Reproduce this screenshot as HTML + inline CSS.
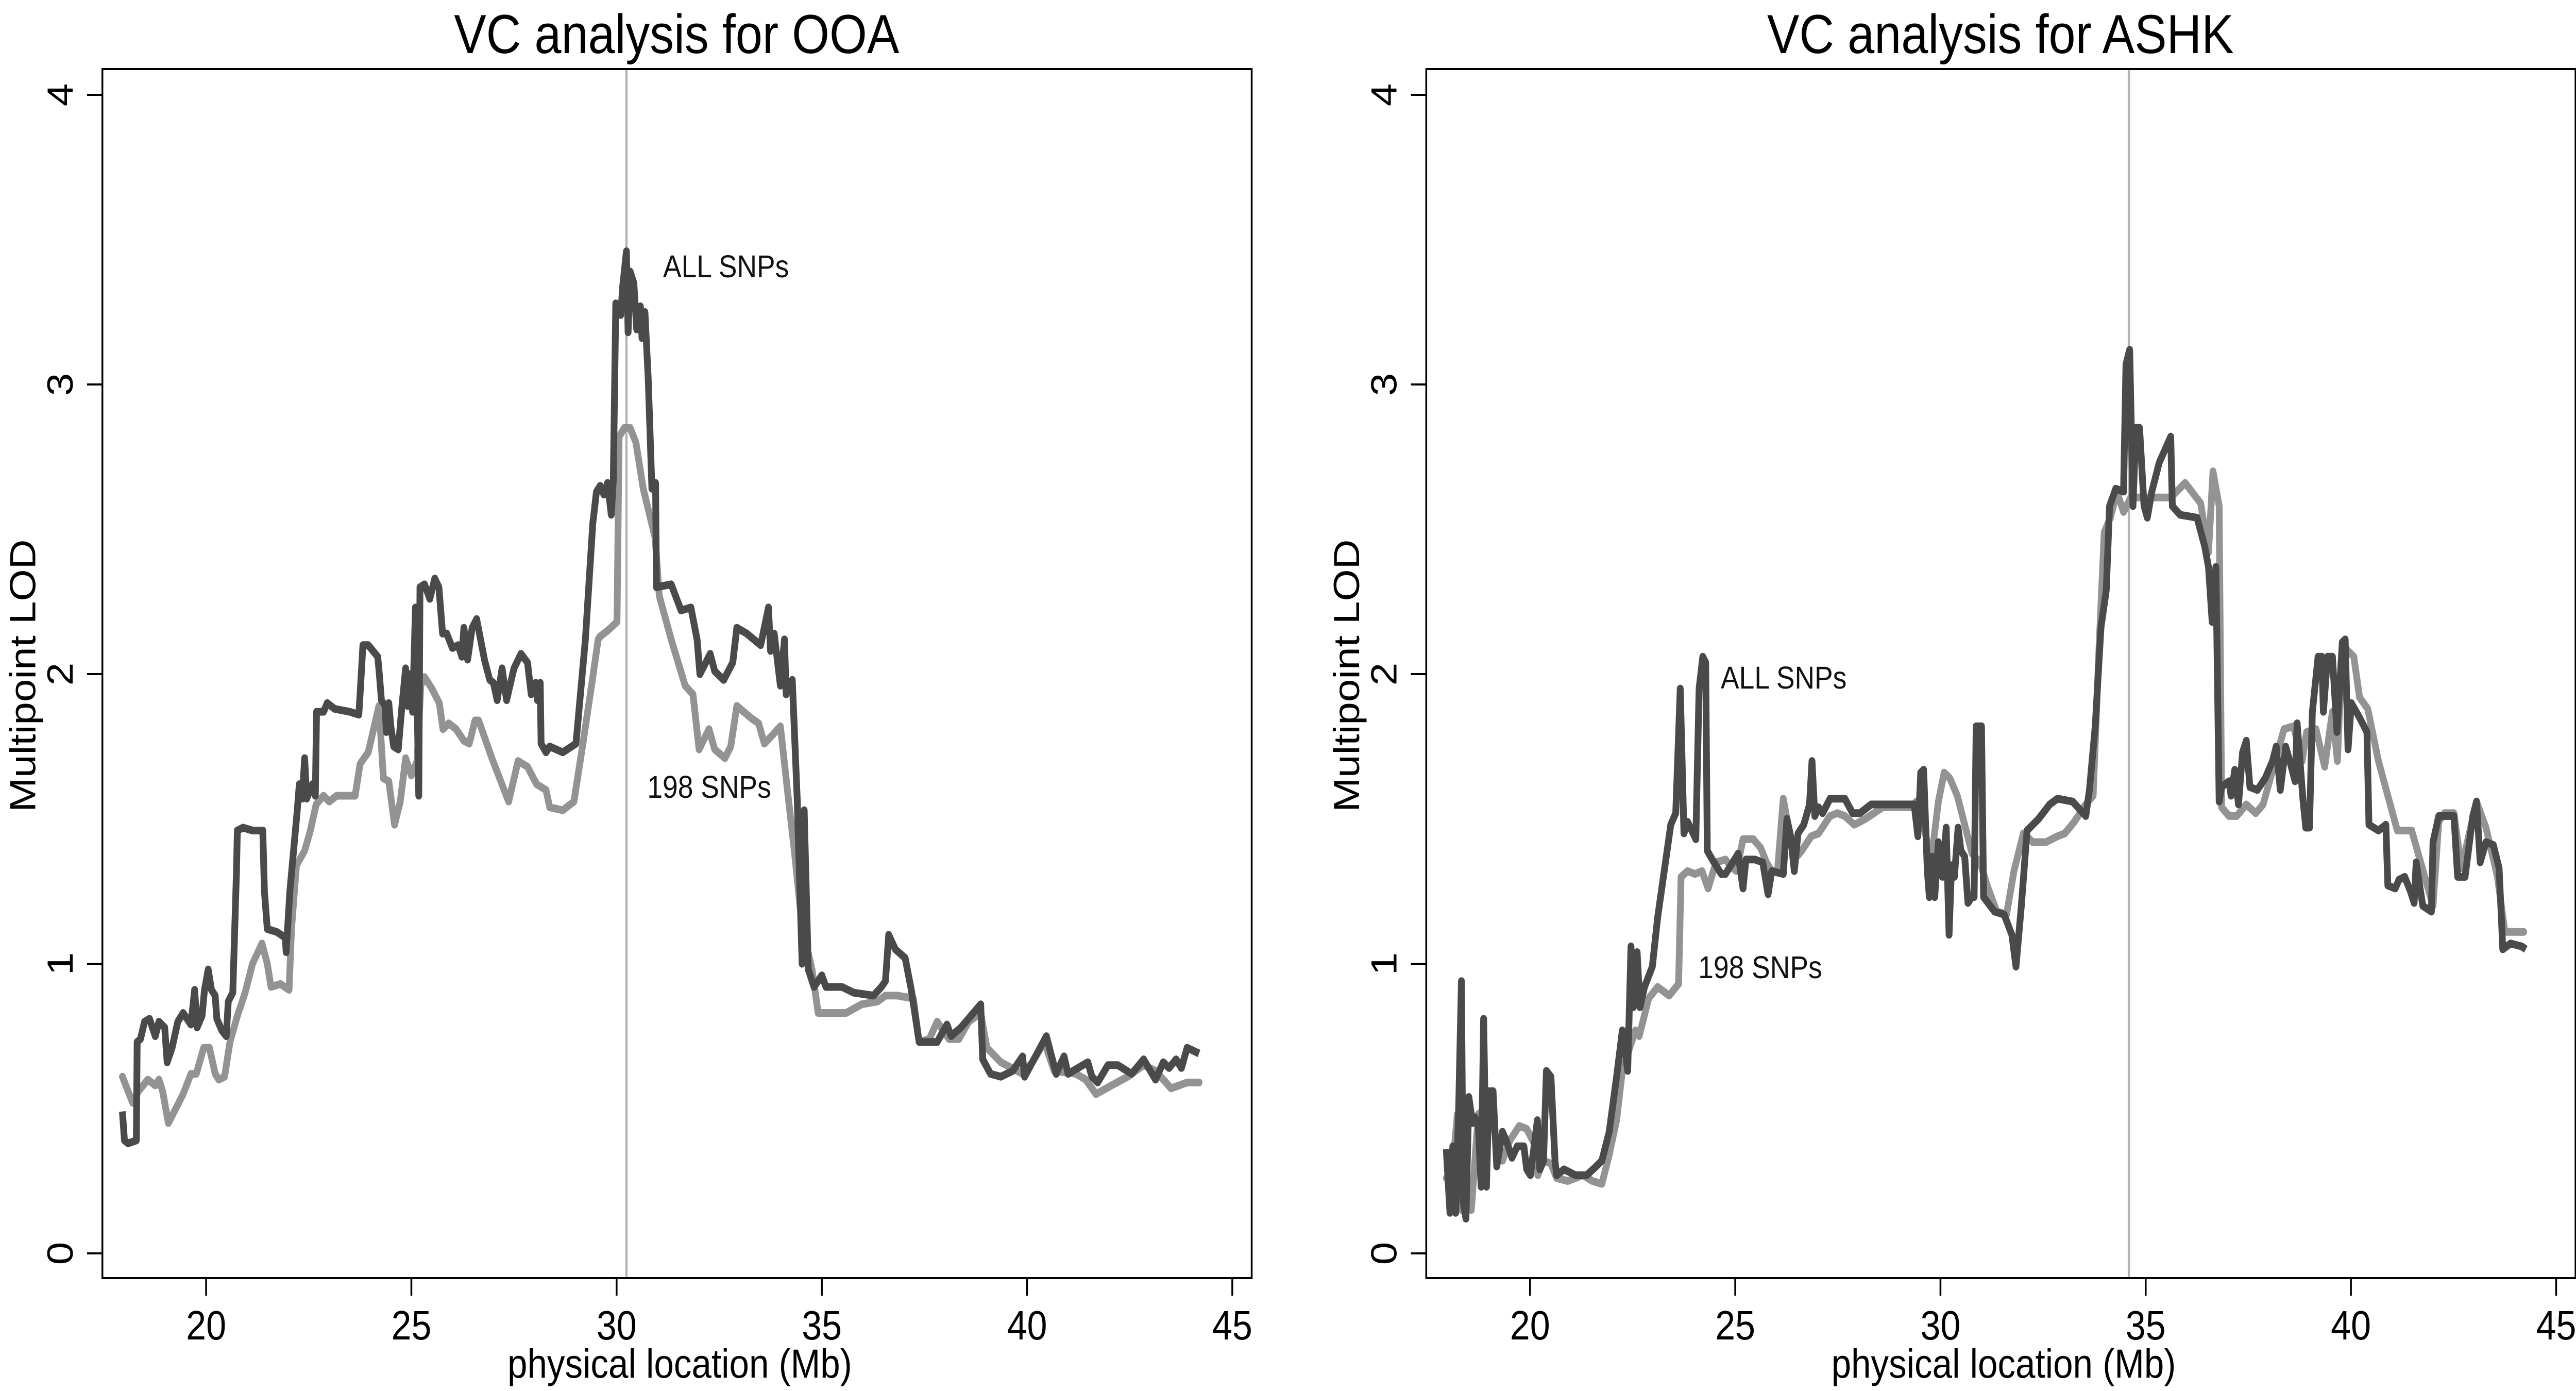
<!DOCTYPE html>
<html><head><meta charset="utf-8"><style>
html,body{margin:0;padding:0;background:#fff;overflow:hidden;width:100vw;height:100vh;}
svg{display:block;width:100vw;height:100vh;font-family:"Liberation Sans",Arial,sans-serif;}
</style></head><body>
<svg id="chart" viewBox="0 0 5711 2699" preserveAspectRatio="none" xmlns="http://www.w3.org/2000/svg"></svg>
<script>
// ---- data ----
const xTicks = [20, 25, 30, 35, 40, 45];
const yTicks = [0, 1, 2, 3, 4];
const titles = ["VC analysis for OOA", "VC analysis for ASHK"];
const markerPos = [30.24, 34.59];

const ooaAllX = [17.96,18.01,18.10,18.30,18.32,18.40,18.50,18.62,18.76,18.85,18.99,19.05,19.17,19.31,19.44,19.63,19.72,19.78,19.90,19.96,20.05,20.13,20.22,20.26,20.38,20.49,20.54,20.65,20.74,20.76,20.90,21.13,21.38,21.42,21.49,21.72,21.93,21.95,22.04,22.13,22.22,22.27,22.34,22.40,22.45,22.59,22.66,22.69,22.86,22.95,23.13,23.50,23.72,23.75,23.82,23.95,24.18,24.22,24.27,24.36,24.39,24.45,24.50,24.57,24.68,24.77,24.86,24.91,24.97,25.03,25.10,25.18,25.21,25.32,25.45,25.57,25.67,25.76,25.86,26.00,26.14,26.23,26.28,26.37,26.48,26.59,26.78,26.91,27.00,27.09,27.21,27.32,27.50,27.67,27.83,27.92,28.03,28.07,28.14,28.16,28.28,28.37,28.69,29.01,29.24,29.42,29.51,29.60,29.69,29.78,29.87,29.92,29.98,30.10,30.15,30.24,30.28,30.33,30.42,30.49,30.58,30.62,30.69,30.77,30.86,30.95,30.97,31.33,31.57,31.81,31.96,32.03,32.28,32.39,32.61,32.83,32.93,33.17,33.51,33.70,33.75,33.84,33.99,34.09,34.13,34.28,34.40,34.52,34.57,34.67,34.81,35.00,35.10,35.49,35.78,36.26,36.45,36.55,36.63,36.79,37.03,37.18,37.37,37.81,38.05,38.15,38.39,38.63,38.87,38.92,39.11,39.36,39.65,39.89,39.94,40.13,40.47,40.71,40.90,41.00,41.48,41.58,41.72,41.97,42.21,42.55,42.84,43.13,43.32,43.46,43.63,43.76,43.90,44.19];
const ooaAllY = [0.49,0.39,0.38,0.39,0.73,0.74,0.80,0.81,0.75,0.80,0.78,0.66,0.71,0.80,0.83,0.79,0.91,0.78,0.82,0.91,0.98,0.91,0.89,0.81,0.77,0.75,0.87,0.90,1.32,1.46,1.47,1.46,1.46,1.25,1.12,1.11,1.09,1.04,1.25,1.39,1.53,1.62,1.57,1.71,1.57,1.62,1.58,1.87,1.87,1.90,1.88,1.87,1.86,1.93,2.10,2.10,2.06,2.00,1.91,1.89,1.80,1.90,1.82,1.75,1.74,1.89,2.02,1.89,2.00,1.87,2.23,1.58,2.30,2.31,2.26,2.33,2.30,2.14,2.14,2.09,2.10,2.06,2.16,2.05,2.16,2.19,2.05,1.98,1.97,1.91,2.02,1.91,2.02,2.07,2.04,1.93,1.97,1.91,1.97,1.76,1.73,1.75,1.73,1.76,2.12,2.52,2.63,2.65,2.62,2.66,2.55,2.67,3.28,3.24,3.34,3.46,3.18,3.39,3.35,3.19,3.27,3.16,3.25,3.02,2.64,2.66,2.30,2.31,2.22,2.23,2.12,2.00,2.07,2.01,1.98,2.04,2.16,2.14,2.10,2.23,2.08,2.14,1.96,2.12,1.93,1.98,1.57,1.00,1.53,0.98,0.92,0.96,0.92,0.92,0.90,0.89,0.92,0.94,1.10,1.05,1.02,0.91,0.73,0.73,0.79,0.75,0.78,0.82,0.86,0.67,0.62,0.61,0.63,0.68,0.61,0.66,0.75,0.62,0.68,0.62,0.66,0.61,0.59,0.65,0.65,0.62,0.67,0.60,0.66,0.64,0.67,0.64,0.71,0.69];

const ooa198X = [17.96,18.21,18.35,18.58,18.76,18.85,18.94,19.08,19.26,19.44,19.63,19.76,19.94,20.08,20.22,20.31,20.45,20.58,20.76,20.95,21.13,21.36,21.49,21.58,21.81,22.02,22.08,22.20,22.40,22.54,22.68,22.86,23.00,23.18,23.63,23.75,23.95,24.21,24.32,24.45,24.59,24.73,24.86,25.00,25.14,25.23,25.32,25.50,25.68,25.77,25.91,26.09,26.28,26.41,26.55,26.64,26.96,27.37,27.60,27.83,28.05,28.28,28.37,28.69,28.96,29.19,29.42,29.55,29.60,29.78,30.01,30.06,30.19,30.33,30.47,30.65,30.94,31.04,31.33,31.67,31.86,32.01,32.25,32.39,32.64,32.78,32.93,33.26,33.46,33.60,33.80,33.99,34.13,34.33,34.52,34.76,34.91,35.59,35.97,36.36,36.55,36.84,37.23,37.37,37.62,37.81,38.10,38.34,38.58,38.87,39.02,39.36,39.89,40.13,40.42,40.66,41.19,41.43,41.68,42.06,42.45,42.84,43.13,43.51,43.90,44.19];
const ooa198Y = [0.61,0.52,0.56,0.60,0.58,0.60,0.56,0.45,0.50,0.55,0.62,0.62,0.71,0.71,0.62,0.60,0.61,0.73,0.82,0.90,1.00,1.07,1.00,0.92,0.93,0.91,1.12,1.34,1.39,1.46,1.55,1.58,1.56,1.58,1.58,1.69,1.73,1.89,1.64,1.63,1.48,1.56,1.71,1.65,1.70,1.96,1.99,1.95,1.90,1.81,1.83,1.81,1.77,1.76,1.84,1.84,1.71,1.56,1.70,1.68,1.62,1.60,1.54,1.53,1.56,1.77,1.99,2.12,2.13,2.15,2.18,2.82,2.85,2.85,2.80,2.64,2.47,2.27,2.12,1.96,1.93,1.74,1.81,1.74,1.71,1.75,1.89,1.85,1.83,1.76,1.79,1.82,1.64,1.39,1.13,0.98,0.83,0.83,0.86,0.87,0.89,0.89,0.88,0.73,0.74,0.80,0.74,0.74,0.80,0.83,0.71,0.66,0.62,0.66,0.73,0.63,0.62,0.60,0.55,0.58,0.61,0.65,0.63,0.57,0.59,0.59];

const ashkAllX = [17.96,18.05,18.12,18.19,18.26,18.33,18.37,18.44,18.51,18.60,18.66,18.74,18.81,18.87,18.94,19.00,19.10,19.19,19.33,19.42,19.56,19.69,19.85,19.92,20.01,20.10,20.18,20.24,20.33,20.40,20.51,20.61,20.65,20.83,21.11,21.38,21.61,21.75,21.93,22.11,22.25,22.38,22.46,22.52,22.61,22.68,22.79,22.98,23.11,23.30,23.43,23.55,23.66,23.75,23.84,24.04,24.12,24.21,24.28,24.32,24.44,24.66,24.76,24.94,25.07,25.19,25.26,25.48,25.67,25.80,25.89,26.17,26.26,26.35,26.44,26.53,26.67,26.81,26.87,26.94,27.03,27.13,27.31,27.49,27.67,27.86,28.04,28.31,28.86,29.36,29.45,29.52,29.59,29.68,29.73,29.79,29.86,29.95,30.05,30.14,30.21,30.27,30.34,30.43,30.50,30.59,30.67,30.76,30.82,30.87,31.00,31.05,31.32,31.55,31.74,31.84,31.97,32.11,32.39,32.66,32.85,33.22,33.54,33.63,33.77,33.91,34.04,34.12,34.27,34.46,34.52,34.61,34.69,34.76,34.85,34.96,35.04,35.15,35.33,35.61,35.65,35.84,36.25,36.44,36.53,36.62,36.71,36.79,36.85,37.03,37.08,37.17,37.26,37.36,37.45,37.54,37.72,37.91,38.09,38.18,38.28,38.41,38.51,38.64,38.69,38.83,38.90,38.99,39.06,39.20,39.29,39.33,39.43,39.55,39.66,39.79,39.86,39.93,40.01,40.21,40.39,40.44,40.67,40.85,40.90,41.08,41.17,41.31,41.45,41.54,41.59,41.75,41.96,42.00,42.14,42.32,42.51,42.60,42.78,42.97,43.06,43.15,43.29,43.47,43.61,43.70,43.89,44.16,44.26];
const ashkAllY = [0.36,0.14,0.37,0.14,0.49,0.94,0.18,0.12,0.54,0.45,0.47,0.44,0.23,0.81,0.23,0.56,0.56,0.30,0.42,0.39,0.33,0.37,0.37,0.29,0.27,0.37,0.46,0.29,0.32,0.63,0.61,0.32,0.27,0.29,0.27,0.27,0.30,0.32,0.42,0.61,0.77,0.63,1.06,0.85,1.04,0.85,0.92,0.99,1.16,1.35,1.48,1.52,1.95,1.45,1.49,1.43,1.95,2.06,2.04,1.39,1.36,1.31,1.31,1.35,1.38,1.26,1.36,1.36,1.35,1.24,1.32,1.31,1.50,1.44,1.32,1.45,1.48,1.55,1.70,1.51,1.54,1.52,1.57,1.57,1.57,1.52,1.52,1.55,1.55,1.55,1.44,1.66,1.67,1.32,1.23,1.37,1.23,1.42,1.30,1.47,1.10,1.34,1.30,1.47,1.39,1.37,1.21,1.23,1.23,1.82,1.82,1.23,1.18,1.17,1.10,0.99,1.20,1.46,1.50,1.55,1.57,1.56,1.51,1.60,1.82,2.16,2.29,2.58,2.64,2.63,3.07,3.12,2.58,2.85,2.85,2.58,2.54,2.63,2.73,2.82,2.58,2.55,2.54,2.44,2.37,2.18,2.37,1.56,1.61,1.63,1.58,1.67,1.55,1.73,1.77,1.61,1.60,1.64,1.70,1.75,1.60,1.75,1.70,1.63,1.83,1.57,1.47,1.47,1.87,2.06,2.06,1.87,2.06,2.06,1.80,2.11,2.12,1.74,1.90,1.85,1.80,1.48,1.46,1.48,1.27,1.26,1.29,1.30,1.25,1.21,1.35,1.20,1.18,1.42,1.51,1.51,1.51,1.30,1.30,1.51,1.56,1.35,1.42,1.41,1.33,1.05,1.07,1.06,1.05];

const ashk198X = [17.96,18.10,18.23,18.33,18.46,18.57,18.74,18.92,19.05,19.19,19.33,19.51,19.74,19.92,20.10,20.19,20.33,20.51,20.65,20.92,21.29,21.52,21.75,21.93,22.11,22.25,22.43,22.57,22.66,22.89,23.11,23.39,23.62,23.68,23.84,24.02,24.19,24.34,24.53,24.76,24.94,25.03,25.19,25.44,25.62,25.76,25.89,26.03,26.17,26.26,26.44,26.62,26.85,27.03,27.31,27.49,27.67,27.90,28.17,28.59,28.95,29.32,29.41,29.59,29.77,29.95,30.09,30.23,30.41,30.59,30.77,30.96,31.14,31.37,31.61,31.79,32.02,32.25,32.57,32.85,33.03,33.26,33.54,33.72,33.86,33.99,34.14,34.30,34.46,34.64,34.96,35.61,35.96,36.34,36.53,36.64,36.79,36.85,37.03,37.22,37.45,37.68,37.86,38.37,38.60,38.81,38.92,39.15,39.36,39.55,39.67,39.79,40.07,40.21,40.41,40.67,41.13,41.48,42.00,42.14,42.28,42.51,42.69,43.06,43.29,43.57,43.75,44.21];
const ashk198Y = [0.26,0.27,0.48,0.15,0.20,0.15,0.48,0.50,0.51,0.37,0.32,0.39,0.44,0.43,0.38,0.27,0.32,0.31,0.26,0.25,0.27,0.25,0.24,0.34,0.46,0.63,0.71,0.77,0.75,0.88,0.92,0.89,0.93,1.30,1.32,1.31,1.32,1.26,1.35,1.36,1.33,1.32,1.43,1.43,1.40,1.35,1.32,1.32,1.57,1.50,1.36,1.39,1.44,1.45,1.51,1.52,1.51,1.48,1.50,1.54,1.54,1.54,1.56,1.48,1.35,1.56,1.66,1.64,1.58,1.48,1.38,1.35,1.27,1.18,1.17,1.32,1.45,1.42,1.42,1.44,1.45,1.49,1.55,1.58,2.08,2.49,2.54,2.63,2.56,2.61,2.61,2.61,2.66,2.59,2.42,2.70,2.58,1.54,1.51,1.51,1.55,1.52,1.55,1.81,1.82,1.70,1.80,1.81,1.68,1.87,1.70,2.10,2.06,1.92,1.88,1.70,1.46,1.46,1.20,1.49,1.52,1.52,1.33,1.56,1.47,1.30,1.11,1.11];

// ---- layout ----
const NS = "http://www.w3.org/2000/svg";
const svg = document.getElementById("chart");
const panelOffset = [0, 2935];
const boxL = 227, boxR = 2775, boxT = 134, boxB = 2480;
function xScale(v, p) { return 457 + (v - 20) * 91 + panelOffset[p]; }
function yScale(v) { return 2432 - v * 562; }
function mk(tag, attrs, parent) {
  const e = document.createElementNS(NS, tag);
  for (const k in attrs) e.setAttribute(k, attrs[k]);
  (parent || svg).appendChild(e);
  return e;
}
function path(xs, ys, p) {
  let d = "";
  for (let i = 0; i < xs.length; i++) d += (i ? "L" : "M") + xScale(xs[i], p).toFixed(1) + " " + yScale(ys[i]).toFixed(1);
  return d;
}
const seriesSets = [[ooa198X, ooa198Y, ooaAllX, ooaAllY], [ashk198X, ashk198Y, ashkAllX, ashkAllY]];
const labelPos = [[[1470, 538], [1435, 1548]], [[3815, 1336], [3765, 1898]]];

for (let p = 0; p < 2; p++) {
  const off = panelOffset[p];
  const g = mk("g", {});
  
  

  const mline = mk("line", { x1: xScale(markerPos[p], p), x2: xScale(markerPos[p], p), y1: boxT, y2: boxB, stroke: "#b3b3b3", "stroke-width": 5 }, g);
  
  

  const s = seriesSets[p];
  const l198 = mk("path", { d: path(s[0], s[1], p), fill: "none", stroke: "#939393", "stroke-width": 15, "stroke-linejoin": "round", "stroke-linecap": "round" }, g);
  
  
  const lall = mk("path", { d: path(s[2], s[3], p), fill: "none", stroke: "#4a4a4a", "stroke-width": 15, "stroke-linejoin": "round", "stroke-linecap": "butt" }, g);
  
  

  const box = mk("rect", { x: boxL + off, y: boxT, width: boxR - boxL, height: boxB - boxT, fill: "none", stroke: "#000", "stroke-width": 4 }, g);
  
  

  const t = mk("text", { x: 1500 + off, y: 103, "text-anchor": "middle", "font-size": 107, fill: "#000" }, g);
  t.textContent = titles[p];
  
  

  for (const v of xTicks) {
    const tl = mk("line", { x1: xScale(v, p), x2: xScale(v, p), y1: boxB, y2: 2514, stroke: "#000", "stroke-width": 4 }, g);
    
    
    const tx = mk("text", { x: xScale(v, p), y: 2599, "text-anchor": "middle", "font-size": 80 }, g);
    tx.textContent = v;
    
    
  }
  for (const v of yTicks) {
    const tl = mk("line", { x1: 193 + off, x2: boxL + off, y1: yScale(v), y2: yScale(v), stroke: "#000", "stroke-width": 4 }, g);
    
    
    const tx = mk("text", { x: 0, y: 0, "text-anchor": "middle", "font-size": 80, transform: "translate(" + (161 + off) + "," + yScale(v) + ") rotate(-90)" }, g);
    tx.textContent = v;
    
    
  }
  const xt = mk("text", { x: 1507 + off, y: 2673, "text-anchor": "middle", "font-size": 79 }, g);
  xt.textContent = "physical location (Mb)";
  
  
  const yt = mk("text", { x: 0, y: 0, "text-anchor": "middle", "font-size": 80, transform: "translate(" + (78 + off) + ",1311) rotate(-90)" }, g);
  yt.textContent = "Multipoint LOD";
  
  

  const a1 = mk("text", { x: labelPos[p][0][0], y: labelPos[p][0][1], "font-size": 61, fill: "#111" }, g);
  a1.textContent = "ALL SNPs";
  
  
  const a2 = mk("text", { x: labelPos[p][1][0], y: labelPos[p][1][1], "font-size": 61, fill: "#111" }, g);
  a2.textContent = "198 SNPs";
  
  
}
</script>
</body></html>
